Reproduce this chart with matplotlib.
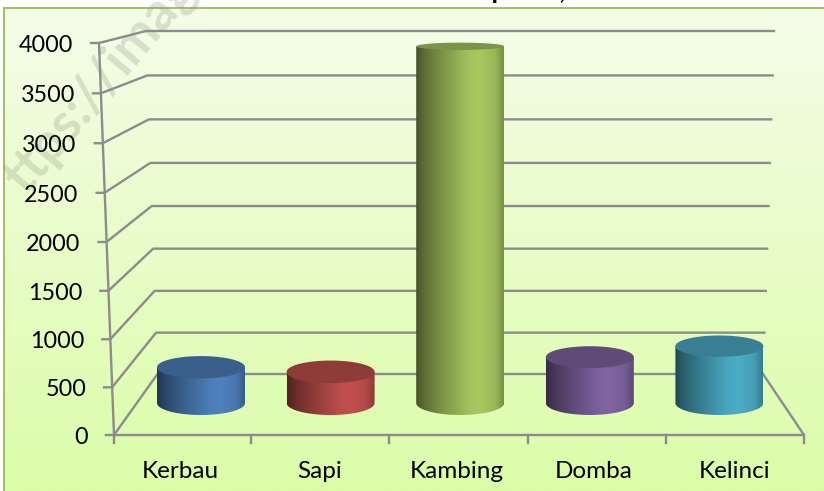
import numpy as np
import matplotlib
matplotlib.use("Agg")
import matplotlib.pyplot as plt
from matplotlib.colors import to_rgb
from matplotlib.patches import Polygon

plt.rcParams['font.family'] = ['Lato', 'DejaVu Sans']

categories = ['Kerbau', 'Sapi', 'Kambing', 'Domba', 'Kelinci']
values = [390, 340, 3890, 500, 620]
value_ticks = [0, 500, 1000, 1500, 2000, 2500, 3000, 3500, 4000]
bar_colors = ['#4F81BD', '#C0504D', '#A8C860', '#8064A2', '#4BACC6']
category_label_x = [180, 320, 456.5, 594, 735]
floor_tick_x = [114, 251.5, 389.5, 527.7, 666, 804]
title_text = 'Populasi,'

W, H = 824, 491
fig = plt.figure(figsize=(W / 100, H / 100), dpi=100, facecolor='white')

# frame layer, in pixel coordinates of the picture
frame = fig.add_axes([0, 0, 1, 1])
frame.set_xlim(0, W)
frame.set_ylim(H, 0)
frame.axis('off')

top_c = np.array(to_rgb('#F5FDE9'))
bot_c = np.array(to_rgb('#DCFCA8'))
t = np.linspace(0, 1, 256)[:, None, None]
grad = top_c[None, None, :] * (1 - t) + bot_c[None, None, :] * t
frame.imshow(grad, extent=(4, W, H, 7), aspect='auto', zorder=0, interpolation='bilinear')
frame.set_xlim(0, W)
frame.set_ylim(H, 0)
frame.plot([4.5, 4.5, W], [H, 7.5, 7.5], color='#A3C160', lw=1.5, zorder=1, solid_joinstyle='miter')

frame.text(100, 84, 'ttps://imag', rotation=50, rotation_mode='anchor', fontsize=38,
           ha='center', va='center', color='#8A9A80', alpha=0.28, zorder=1,
           fontweight='bold', clip_on=True)
frame.text(461, -1.5, title_text, fontsize=19, fontweight='bold', ha='left', va='baseline',
           color='black', zorder=1)

GRID = '#8C8C8C'
LW = 1.7

def front_x(v):
    return 114 - v * 15 / 4000

def front_y(v):
    return 435 - 0.095 * v - 7.5e-7 * v ** 2

def back_left_x(v):
    return 157.5 - v * 11.5 / 4000

def back_right_x(v):
    return 763 + v * 11 / 4000

def back_y(v):
    return 374 - 0.08225 * v - 8.75e-7 * v ** 2

for v in value_ticks:
    frame.plot([front_x(v) - 8, front_x(v), back_left_x(v), back_right_x(v)],
               [front_y(v), front_y(v), back_y(v), back_y(v)],
               color=GRID, lw=LW, zorder=2, solid_joinstyle='round')
    frame.text(front_x(v) - 26, front_y(v) + 0.5, str(v), fontsize=16.8, ha='right',
               va='center_baseline', color='black', zorder=3)

frame.plot([front_x(4000), front_x(0)], [front_y(4000), front_y(0)], color=GRID, lw=LW, zorder=2)
frame.plot([front_x(0), floor_tick_x[-1], back_right_x(0)], [front_y(0), front_y(0), back_y(0)],
           color=GRID, lw=LW, zorder=2)
for x in floor_tick_x:
    frame.plot([x, x], [front_y(0), front_y(0) + 8], color=GRID, lw=LW, zorder=2)
for x, name in zip(category_label_x, categories):
    frame.text(x, 470, name, fontsize=17.5, ha='center', va='center_baseline', color='black', zorder=3)

# cylinders: category index on x, value on y
PX_PER_CAT = 129.6
PX_PER_VAL = 0.0917
BASE_PX = 403
CX0 = 201
Y_FLOOR = -300
left = CX0 - 0.5 * PX_PER_CAT
width = 5 * PX_PER_CAT
height = (4000 - Y_FLOOR) * PX_PER_VAL
bottom_px = BASE_PX - Y_FLOOR * PX_PER_VAL
ax = fig.add_axes([left / W, (H - bottom_px) / H, width / W, height / H])
ax.patch.set_alpha(0)
ax.axis('off')

RX = 44 / PX_PER_CAT
th = np.linspace(0, np.pi, 80)
stops = np.array([0.0, 0.12, 0.35, 0.62, 0.72, 0.90, 1.0])
gains = np.array([0.42, 0.58, 0.78, 0.98, 1.0, 0.92, 0.72])

def ry_val(v):
    return (12 - 0.00215 * v) / PX_PER_VAL

for i, (v, col) in enumerate(zip(values, bar_colors)):
    rgb = np.array(to_rgb(col))
    u = np.linspace(0, 1, 200)
    g = np.interp(u, stops, gains)
    img = (g[:, None] * rgb[None, :])[None, :, :]
    rb, rt = ry_val(0), ry_val(v)
    xs = i + RX * np.cos(th)
    bottom_arc = -rb * np.sin(th)
    outline = np.column_stack([
        np.r_[xs, i - RX, i + RX],
        np.r_[bottom_arc, v, v],
    ])
    im = ax.imshow(img, extent=(i - RX, i + RX, -rb, v), aspect='auto', zorder=4,
                   interpolation='bilinear')
    clip = Polygon(outline, closed=True, transform=ax.transData, fc='none', ec='none')
    ax.add_patch(clip)
    im.set_clip_path(clip)
    t2 = np.linspace(0, 2 * np.pi, 160)
    ax.fill(i + RX * np.cos(t2), v + rt * np.sin(t2), color=rgb * 0.74, lw=0, zorder=5)

ax.set_xlim(-0.5, 4.5)
ax.set_ylim(Y_FLOOR, 4000)

fig.savefig('out.png', dpi=100, facecolor='white')
